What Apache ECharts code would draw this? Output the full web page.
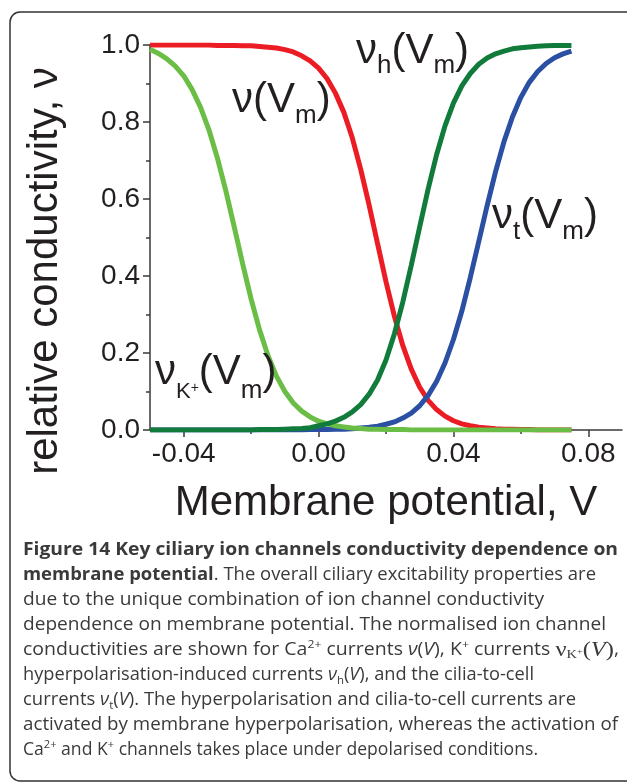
<!DOCTYPE html>
<html><head><meta charset="utf-8">
<script src="https://cdn.jsdelivr.net/npm/echarts@6/dist/echarts.min.js"></script>
<style>html,body{margin:0;padding:0;background:#fff}#c{width:627px;height:783px}</style>
</head><body><div id="c"></div>
<script>
// ---- data ----
const voltage = [-0.05,-0.0475,-0.045,-0.0425,-0.04,-0.0375,-0.035,-0.0325,-0.03,-0.0275,-0.025,-0.0225,-0.02,-0.0175,-0.015,-0.0125,-0.01,-0.0075,-0.005,-0.0025,0,0.0025,0.005,0.0075,0.01,0.0125,0.015,0.0175,0.02,0.0225,0.025,0.0275,0.03,0.0325,0.035,0.0375,0.04,0.0425,0.045,0.0475,0.05,0.0525,0.055,0.0575,0.06,0.0625,0.065,0.0675,0.07,0.0725,0.075];
const nuCa = [1.000,1.000,1.000,1.000,1.000,1.000,1.000,1.000,0.999,0.999,0.999,0.998,0.998,0.996,0.994,0.992,0.988,0.982,0.972,0.959,0.940,0.913,0.875,0.825,0.759,0.677,0.584,0.484,0.385,0.295,0.219,0.158,0.111,0.077,0.053,0.036,0.024,0.016,0.011,0.007,0.005,0.003,0.002,0.002,0.001,0.001,0.000,0.000,0.000,0.000,0.000];
const nuK = [0.989,0.978,0.964,0.945,0.920,0.884,0.838,0.779,0.706,0.621,0.527,0.431,0.340,0.260,0.193,0.140,0.100,0.070,0.049,0.034,0.023,0.016,0.011,0.008,0.005,0.004,0.002,0.002,0.001,0.001,0.001,0.000,0.000,0.000,0.000,0.000,0.000,0.000,0.000,0.000,0.000,0.000,0.000,0.000,0.000,0.000,0.000,0.000,0.000,0.000,0.000];
const nuH = [0.000,0.000,0.000,0.000,0.000,0.000,0.000,0.000,0.000,0.000,0.000,0.000,0.000,0.001,0.001,0.001,0.002,0.003,0.004,0.006,0.011,0.016,0.023,0.033,0.047,0.066,0.093,0.130,0.182,0.250,0.333,0.428,0.528,0.626,0.715,0.790,0.849,0.894,0.926,0.950,0.966,0.977,0.984,0.990,0.993,0.995,0.997,0.998,0.999,0.999,0.999];
const nuT = [0.000,0.000,0.000,0.000,0.000,0.000,0.000,0.000,0.000,0.000,0.000,0.000,0.000,0.000,0.000,0.000,0.000,0.000,0.000,0.001,0.001,0.001,0.002,0.002,0.003,0.005,0.007,0.010,0.015,0.021,0.031,0.044,0.063,0.090,0.126,0.174,0.235,0.309,0.396,0.489,0.583,0.671,0.749,0.813,0.864,0.903,0.931,0.952,0.967,0.977,0.984];
const xMajorTicks = [-0.04, 0, 0.04, 0.08];
const xMinorTicks = [-0.02, 0.02, 0.06];
const xRange = [-0.05, 0.09];
const yRange = [0, 1];
const yStep = 0.2;
const xTitle = 'Membrane potential, V';
const yTitle = 'relative conductivity, ν';
const captionLines = [
  '{b|Figure 14 Key ciliary ion channels conductivity dependence on}',
  '{b|membrane potential}. The overall ciliary excitability properties are',
  'due to the unique combination of ion channel conductivity',
  'dependence on membrane potential. The normalised ion channel',
  'conductivities are shown for Ca{sup|2+} currents {i|ν}({i|V}), K{sup|+} currents {mv|ν}{mk|K}{mp|+}{mv|(}{mi|V}{mv|)},',
  'hyperpolarisation-induced currents {i|ν}{sub|h}({i|V}), and the cilia-to-cell',
  'currents {i|ν}{sub|t}({i|V}). The hyperpolarisation and cilia-to-cell currents are',
  'activated by membrane hyperpolarisation, whereas the activation of',
  'Ca{sup|2+} and K{sup|+} channels takes place under depolarised conditions.'
];
// right ends of the caption lines in the figure (layout only)
const captionRightEdge = [618, 596, 544, 606, 619, 534, 576, 618, 538];

// ---- chart ----
const SANS = 'Liberation Sans, Arial, sans-serif';
const CAP = 'Open Sans, sans-serif';
const SERIF = 'Liberation Serif, Times New Roman, serif';
const AX = '#3a3a3a';
const TXT = '#231f20';
const CAPC = '#3a3a3a';
const CAPSIZE = 17.5;
const CAPX = 23;
const pairs = arr => voltage.map((v, i) => [v, arr[i]]);

function curveLabel(text, x, y, subPad) {
  return {
    type: 'text', x: x, y: y, z: 10,
    style: {
      text: text, align: 'left', verticalAlign: 'middle', fill: TXT,
      fontFamily: SANS, fontSize: 42,
      rich: {
        a: {fontFamily: SANS, fontSize: 42, lineHeight: 42, color: TXT},
        s: {fontFamily: SANS, fontSize: 26, lineHeight: 26, color: TXT, padding: [subPad, 0, 0, 0]},
        k: {fontFamily: SANS, fontSize: 22, lineHeight: 22, color: TXT, padding: [subPad + 3, 0, 0, 0]},
        p: {fontFamily: SANS, fontSize: 14, lineHeight: 14, color: TXT, padding: [32, 0, 0, 0]}
      }
    }
  };
}

const capRich = {
  b: {fontFamily: CAP, fontSize: CAPSIZE, lineHeight: 18, fontWeight: 'bold', color: '#231f20'},
  i: {fontFamily: CAP, fontSize: CAPSIZE, lineHeight: 18, fontStyle: 'italic', color: CAPC},
  sup: {fontFamily: CAP, fontSize: 11, lineHeight: 11, color: CAPC, padding: [0, 0, 10, 0]},
  sub: {fontFamily: CAP, fontSize: 11, lineHeight: 11, color: CAPC, padding: [11, 0, 0, 0]},
  mv: {fontFamily: SERIF, fontSize: 22, lineHeight: 22, color: '#231f20'},
  mi: {fontFamily: SERIF, fontSize: 22, lineHeight: 22, fontStyle: 'italic', color: '#231f20'},
  mk: {fontFamily: SERIF, fontSize: 13, lineHeight: 13, color: '#231f20', padding: [10, 0, 0, 0]},
  mp: {fontFamily: SERIF, fontSize: 9, lineHeight: 9, color: '#231f20', padding: [4, 0, 0, 0]}
};
function capStyle(t) {
  return {text: t, align: 'left', verticalAlign: 'middle', fill: CAPC,
          fontFamily: CAP, fontSize: CAPSIZE, rich: capRich};
}
function lineScale(t, i) {
  try {
    const el = new echarts.graphic.Text({style: capStyle(t)});
    const w = el.getBoundingRect().width;
    if (w > 50) return (captionRightEdge[i] - CAPX) / w;
  } catch (e) {}
  return 1.05;
}
const captionEls = captionLines.map((t, i) => ({
  type: 'text', x: CAPX, y: 550 + i * 25, z: 10, scaleX: lineScale(t, i),
  style: capStyle(t)
}));

const chart = echarts.init(document.getElementById('c'), null, {renderer: 'canvas'});
chart.setOption({
  animation: false,
  backgroundColor: '#fff',
  textStyle: {fontFamily: SANS},
  grid: {left: 150, right: 5, top: 45, bottom: 353, containLabel: false},
  xAxis: [{
    type: 'value', min: xRange[0], max: xRange[1],
    name: xTitle, nameLocation: 'middle', nameGap: 52,
    nameTextStyle: {fontFamily: SANS, fontSize: 42, color: TXT},
    axisLine: {show: true, onZero: false, lineStyle: {color: AX, width: 1.5}},
    axisTick: {show: true, customValues: xMajorTicks, length: 7, lineStyle: {color: AX, width: 1.5}},
    axisLabel: {show: true, customValues: xMajorTicks, margin: 10, fontSize: 28, color: TXT,
                fontFamily: SANS, formatter: v => v.toFixed(2)},
    splitLine: {show: false}
  }, {
    type: 'value', min: xRange[0], max: xRange[1], position: 'bottom',
    axisLine: {show: false, onZero: false},
    axisTick: {show: true, customValues: xMinorTicks, length: 4, lineStyle: {color: AX, width: 1.5}},
    axisLabel: {show: false},
    splitLine: {show: false}
  }],
  yAxis: {
    type: 'value', min: yRange[0], max: yRange[1], interval: yStep,
    axisLine: {show: true, onZero: false, lineStyle: {color: AX, width: 1.5}},
    axisTick: {show: true, length: 7, lineStyle: {color: AX, width: 1.5}},
    minorTick: {show: true, splitNumber: 2, length: 4, lineStyle: {color: AX, width: 1.5}},
    axisLabel: {margin: 10, fontSize: 28, color: TXT, fontFamily: SANS, formatter: v => v.toFixed(1)},
    splitLine: {show: false}
  },
  series: [
    {name: 'ν(Vm)', type: 'line', data: pairs(nuCa), showSymbol: false, lineStyle: {color: '#ec1c24', width: 5}, itemStyle: {color: '#ec1c24'}, z: 2},
    {name: 'νt(Vm)', type: 'line', data: pairs(nuT), showSymbol: false, lineStyle: {color: '#2b4fa3', width: 5}, itemStyle: {color: '#2b4fa3'}, z: 3},
    {name: 'νK+(Vm)', type: 'line', data: pairs(nuK), showSymbol: false, lineStyle: {color: '#6abd45', width: 5}, itemStyle: {color: '#6abd45'}, z: 4},
    {name: 'νh(Vm)', type: 'line', data: pairs(nuH), showSymbol: false, lineStyle: {color: '#117b3b', width: 5}, itemStyle: {color: '#117b3b'}, z: 5}
  ],
  graphic: [
    {type: 'rect', z: 0, shape: {x: 10, y: 12, width: 700, height: 769, r: 10},
     style: {fill: 'none', stroke: '#333', lineWidth: 1.5}},
    {type: 'text', x: 45, y: 271, rotation: Math.PI / 2, z: 10,
     style: {text: yTitle, align: 'center', verticalAlign: 'middle', fill: TXT, fontFamily: SANS, fontSize: 42}},
    curveLabel('{a|ν(V}{s|m}{a|)}', 232, 100, 31),
    curveLabel('{a|ν}{s|h}{a|(V}{s|m}{a|)}', 356, 51, 29),
    curveLabel('{a|ν}{s|t}{a|(V}{s|m}{a|)}', 492, 216, 31),
    curveLabel('{a|ν}{k|K}{p|+}{a|(V}{s|m}{a|)}', 155, 372, 37)
  ].concat(captionEls)
});
</script></body></html>
